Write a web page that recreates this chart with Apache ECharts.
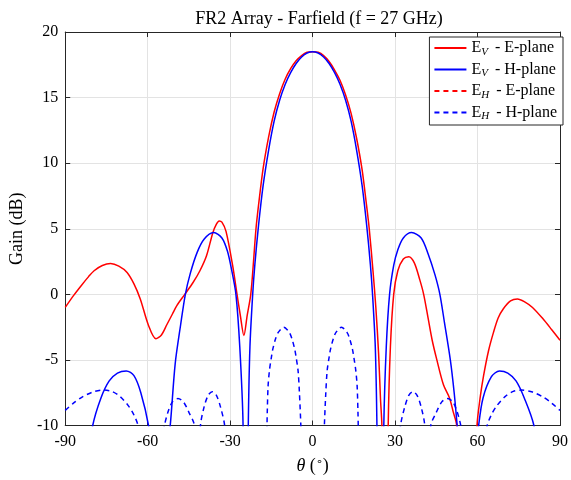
<!DOCTYPE html>
<html style="height: 100%">
<head>
  <meta charset="utf-8">
</head>
<body style="height: 100%; margin: 0; background: #fff">
  <div id="container" style="width: 571px; height: 480px"></div>

  <script type="text/javascript" src="https://cdn.jsdelivr.net/npm/echarts@6/dist/echarts.min.js"></script>
  <script type="text/javascript">
    var myChart = echarts.init(document.getElementById('container'));

    // E_V, E-plane (red solid)
    const evE_theta = [-90, -87, -84.2, -81.5, -79.5, -76.5, -73.5, -70.5, -67.5, -65, -62.7, -59.7, -57, -55, -53, -51, -49.4, -46.5, -43.5, -41, -38.6, -36.3, -35, -34, -33, -31.5, -29.1, -27.5, -26.3, -25, -23.8, -22.5, -21.5, -20.6, -19.5, -18, -16, -14, -12, -10, -8, -6, -4, -2, 0, 2, 4, 6, 8, 10, 12, 14, 16, 18, 19.5, 20.6, 22, 23, 24, 24.7, 25.2, 26.3, 27.5, 28.3, 29.5, 31, 33, 35, 37, 39, 40.4, 42, 43.5, 45.2, 47.6, 49.8, 51.2, 52.4, 55, 59.8, 61, 62.2, 64, 65.8, 67.5, 69.4, 72, 74.5, 77, 80, 83.8, 87, 90];
    const evE_gain = [-1.0, -0.1, 0.66, 1.35, 1.8, 2.2, 2.35, 2.15, 1.67, 0.8, -0.35, -2.37, -3.39, -3.1, -2.3, -1.5, -0.86, 0.0, 0.9, 1.8, 2.94, 4.7, 5.35, 5.6, 5.5, 4.8, 2.2, 0.0, -1.6, -3.13, -1.6, 0.0, 2.5, 5.0, 7.1, 9.6, 12.0, 13.9, 15.3, 16.4, 17.2, 17.8, 18.2, 18.45, 18.5, 18.45, 18.2, 17.75, 17.1, 16.3, 15.2, 13.8, 11.9, 9.5, 7.0, 5.0, 1.7, -1.0, -4.5, -8.0, -10, -30, -10, -4.0, 0.0, 1.8, 2.7, 2.87, 2.4, 1.1, 0.0, -1.8, -3.5, -5.0, -6.9, -7.9, -9.0, -10, -30, -10, -7.8, -6.2, -4.3, -2.9, -1.8, -1.1, -0.5, -0.35, -0.55, -1.0, -1.87, -2.7, -3.5];

    // E_V, H-plane (blue solid)
    const evH_theta = [-88, -82, -80, -77, -74, -71, -67.8, -65, -62.5, -59.7, -58, -56, -53.5, -51.8, -50, -48, -46.3, -44.5, -42, -39.5, -36, -33, -31, -29.5, -27.9, -26.5, -25.3, -24.4, -23.4, -22.8, -21.8, -21, -19.7, -18, -16, -14, -12, -10, -8, -6, -4, -2, 0, 2, 4, 6, 8, 10, 12, 14, 16, 18, 19.7, 21, 21.8, 22.8, 23.4, 24.6, 25.9, 26.8, 28, 29.5, 31, 33, 36, 39.5, 42, 44.5, 46.3, 48, 50.1, 51.5, 52.6, 54, 56.5, 59, 60.4, 62, 65, 68, 71, 74, 77, 80.5, 82, 88];
    const evH_gain = [-25, -13, -10, -7.9, -6.6, -6.0, -5.84, -6.2, -7.5, -10, -13, -25, -13, -10, -5.3, -2.3, 0.0, 1.6, 3.2, 4.2, 4.71, 4.3, 3.3, 1.9, 0.0, -4.0, -10, -30, -10, -4.0, 0.0, 2.3, 5.2, 8.3, 11.0, 13.2, 14.8, 16.0, 16.9, 17.6, 18.1, 18.4, 18.5, 18.4, 18.1, 17.6, 16.9, 16.0, 14.8, 13.2, 11.0, 8.3, 5.2, 2.3, 0.0, -4.0, -10, -30, -10, -4.0, 0.0, 2.2, 3.4, 4.3, 4.71, 4.3, 3.1, 1.5, 0.0, -2.2, -5.0, -7.5, -10, -13, -25, -13, -10, -7.9, -6.3, -5.84, -6.0, -6.6, -7.9, -10, -13, -25];

    // E_H, E-plane (red dashed) - stays below the axis floor
    const ehE_theta = [-90, -45, 0, 45, 90];
    const ehE_gain = [-40, -40, -40, -40, -40];

    // E_H, H-plane (blue dashed)
    const ehH_theta = [-90, -87, -84, -80, -76, -73, -70, -67, -65, -63.5, -62, -58.5, -55.5, -53.9, -52.5, -51, -49, -47, -45, -43, -41.8, -40.8, -39.5, -38, -36.5, -35, -33.5, -32, -31, -24, -17.5, -16.8, -16.5, -16.2, -15.7, -15, -14.5, -13.5, -12.5, -10.5, -8.5, -7.5, -6.5, -6, -5.3, -4.8, -4.2, 0, 4.2, 4.8, 5.3, 6, 6.5, 7.5, 8.5, 10.5, 12.5, 13.5, 14.5, 15, 15.7, 16.2, 16.5, 16.8, 17.5, 24, 31, 32, 33.5, 35, 36.5, 38, 39.5, 40.8, 41.8, 43, 45, 47, 49, 51, 52.5, 53.9, 55.5, 58.5, 62, 63.5, 65, 67, 70, 73, 76, 80, 84, 87, 90];
    const ehH_gain = [-8.85, -8.3, -7.85, -7.45, -7.3, -7.4, -7.8, -8.5, -9.2, -10, -12, -25, -12, -10, -8.9, -8.2, -7.95, -8.2, -9.0, -10, -15, -10, -8.6, -7.7, -7.42, -7.7, -8.6, -10, -13, -18, -13, -11.5, -9.0, -7.0, -5.8, -4.8, -4.2, -3.4, -2.9, -2.5, -2.9, -3.4, -4.2, -4.8, -5.8, -7.5, -10.5, -40, -10.5, -7.5, -5.8, -4.8, -4.2, -3.4, -2.9, -2.5, -2.9, -3.4, -4.2, -4.8, -5.8, -7.0, -9.0, -11.5, -13, -18, -13, -10, -8.6, -7.7, -7.42, -7.7, -8.6, -10, -15, -10, -9.0, -8.2, -7.95, -8.2, -8.9, -10, -12, -25, -12, -10, -9.2, -8.5, -7.8, -7.4, -7.3, -7.45, -7.85, -8.3, -8.85];

    const xTicks = [-90, -60, -30, 0, 30, 60, 90];
    const yTicks = [-10, -5, 0, 5, 10, 15, 20];

    function pairs(t, g) {
      return t.map(function (v, i) { return [v, g[i]]; });
    }

    const serif = 'Liberation Serif';
    const axisColor = '#262626';

    const legendText = {
      'EV - E-plane': '{a|E}{s|V}{a| - E-plane}',
      'EV - H-plane': '{a|E}{s|V}{a| - H-plane}',
      'EH - E-plane': '{a|E}{s|H}{a| - E-plane}',
      'EH - H-plane': '{a|E}{s|H}{a| - H-plane}'
    };

    function line(name, data, color, dashed) {
      return {
        name: name,
        type: 'line',
        data: data,
        showSymbol: false,
        symbol: 'none',
        smooth: 0.3,
        clip: true,
        animation: false,
        lineStyle: { color: color, width: 1.5, type: dashed ? [5, 4] : 'solid' },
        itemStyle: { color: color }
      };
    }

    var option = {
      backgroundColor: '#fff',
      animation: false,
      title: {
        text: 'FR2 Array - Farfield (f = 27 GHz)',
        left: 314,
        textAlign: 'center',
        top: 5,
        textStyle: { fontFamily: serif, fontSize: 18, fontWeight: 'normal', color: '#000' }
      },
      legend: {
        orient: 'vertical',
        right: 8,
        top: 37,
        padding: [3, 6, 3, 4],
        itemGap: 4,
        itemWidth: 32,
        itemHeight: 14,
        borderColor: '#262626',
        borderWidth: 1,
        backgroundColor: '#fff',
        borderRadius: 0,
        itemStyle: { opacity: 0 },
        formatter: function (n) { return legendText[n]; },
        textStyle: {
          rich: {
            a: { fontFamily: serif, fontSize: 16, color: '#000' },
            s: { fontFamily: serif, fontSize: 11, fontStyle: 'italic', color: '#000', padding: [8, 3, 0, 0] }
          }
        },
        data: ['EV - E-plane', 'EV - H-plane', 'EH - E-plane', 'EH - H-plane']
      },
      grid: { left: 64, right: 6, top: 32, bottom: 53 },
      xAxis: [
        {
          type: 'value', min: -90, max: 90, interval: 30,
          name: '{i|θ} ({s|∘})',
          nameLocation: 'middle', nameGap: 31,
          nameTextStyle: {
            rich: {
              i: { fontFamily: serif, fontSize: 18, fontStyle: 'italic', color: '#000' },
              s: { fontFamily: 'DejaVu Sans', fontSize: 11, color: '#000', padding: [0, 0, 8, 0] }
            },
            fontFamily: serif, fontSize: 18, color: '#000'
          },
          axisLine: { show: true, onZero: false, lineStyle: { color: axisColor, width: 1 } },
          axisTick: { show: true, inside: true, length: 5, lineStyle: { color: axisColor } },
          axisLabel: { fontFamily: serif, fontSize: 16, color: '#000', margin: 8,
            formatter: function (v) { return xTicks.indexOf(v) >= 0 ? String(v) : ''; } },
          splitLine: { show: true, lineStyle: { color: '#e3e3e3', width: 1 } }
        },
        {
          type: 'value', min: -90, max: 90, interval: 30, position: 'top',
          axisLine: { show: true, onZero: false, lineStyle: { color: axisColor, width: 1 } },
          axisTick: { show: true, inside: true, length: 5, lineStyle: { color: axisColor } },
          axisLabel: { show: false },
          splitLine: { show: false }
        }
      ],
      yAxis: [
        {
          type: 'value', min: -10, max: 20, interval: 5,
          name: 'Gain (dB)',
          nameLocation: 'middle', nameGap: 32,
          nameTextStyle: { fontFamily: serif, fontSize: 18, color: '#000' },
          axisLine: { show: true, onZero: false, lineStyle: { color: axisColor, width: 1 } },
          axisTick: { show: true, inside: true, length: 5, lineStyle: { color: axisColor } },
          axisLabel: { fontFamily: serif, fontSize: 16, color: '#000', margin: 7,
            formatter: function (v) { return yTicks.indexOf(v) >= 0 ? String(v) : ''; } },
          splitLine: { show: true, lineStyle: { color: '#e3e3e3', width: 1 } }
        },
        {
          type: 'value', min: -10, max: 20, interval: 5, position: 'right',
          axisLine: { show: true, onZero: false, lineStyle: { color: axisColor, width: 1 } },
          axisTick: { show: true, inside: true, length: 5, lineStyle: { color: axisColor } },
          axisLabel: { show: false },
          splitLine: { show: false }
        }
      ],
      series: [
        line('EV - E-plane', pairs(evE_theta, evE_gain), '#ff0000', false),
        line('EV - H-plane', pairs(evH_theta, evH_gain), '#0000ff', false),
        line('EH - E-plane', pairs(ehE_theta, ehE_gain), '#ff0000', true),
        line('EH - H-plane', pairs(ehH_theta, ehH_gain), '#0000ff', true)
      ]
    };

    myChart.setOption(option);
    window.addEventListener('resize', myChart.resize);
  </script>
</body>
</html>
